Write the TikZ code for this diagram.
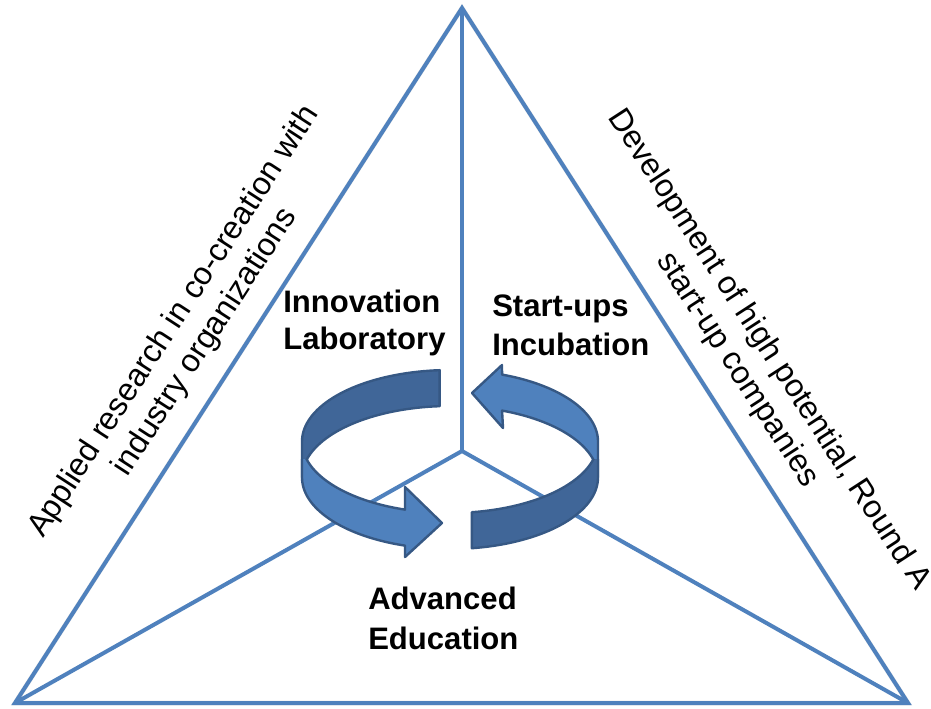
\documentclass[tikz,border=0pt]{standalone}
\usepackage{fontspec}
\setmainfont{Liberation Sans}
\definecolor{sideblue}{RGB}{79,129,189}
\definecolor{ribbonlight}{RGB}{79,129,189}
\definecolor{ribbondark}{RGB}{64,102,152}
\definecolor{ribbonline}{RGB}{54,88,132}

\begin{document}
\begin{tikzpicture}[x=0.75pt, y=-0.75pt,
	side/.style = {draw=sideblue, line width=3pt, line join=miter},
	sideshadow/.style = {draw=black!10, line width=3.5pt, xshift=2pt, yshift=-2pt},
	ribbon/.style = {draw=ribbonline, line width=1.8pt, line join=round},
	stagelabel/.style = {font=\bfseries\fontsize{23.3}{#1}\selectfont, align=left,
	inner sep=0pt, anchor=north west},
	sidetext/.style = {font=\fontsize{24}{28}\selectfont, align=center, inner sep=0pt}]

	\useasboundingbox (0,0) rectangle (931,708);

	\coordinate (apex) at (462,8);
	\coordinate (lcorner) at (15,703);
	\coordinate (rcorner) at (908,703);
	\coordinate (hub) at (462,451);

	% Triangle
	\draw[sideshadow] (apex) -- (rcorner) -- (lcorner) -- cycle;
	\draw[side] (apex) -- (rcorner) -- (lcorner) -- cycle;
	\draw[side] (hub) -- (apex);
	\draw[side] (hub) -- (lcorner);
	\draw[side] (hub) -- (rcorner);

	% Left ribbon, back then front with head
	\filldraw[ribbon, fill=ribbondark]
		plot[domain=94:180, samples=40] ({450+148*cos(\x)}, {441.5-71.5*sin(\x)})
		-- plot[domain=180:94, samples=40] ({450+148*cos(\x)}, {477.5-71.5*sin(\x)}) -- cycle;
	\begin{scope}
		\clip (0,459.5) rectangle (931,708);
		\filldraw[ribbon, fill=ribbonlight]
			plot[domain=180:252.3, samples=40] ({450+148*cos(\x)}, {441.5-71.5*sin(\x)})
			-- (405,487) -- (442,523) -- (405,557)
			-- plot[domain=252.3:180, samples=40] ({450+148*cos(\x)}, {477.5-71.5*sin(\x)}) -- cycle;
	\end{scope}

	% Right ribbon, back with head then front
	\filldraw[ribbon, fill=ribbonlight]
		plot[domain=0:69.4, samples=40] ({450+148*cos(\x)}, {441.5-71.5*sin(\x)})
		-- (502,365) -- (472,393) -- (503,428)
		-- plot[domain=69.4:0, samples=40] ({450+148*cos(\x)}, {477.5-71.5*sin(\x)}) -- cycle;
	\begin{scope}
		\clip (0,459.5) rectangle (931,708);
		\filldraw[ribbon, fill=ribbondark]
			plot[domain=278.5:360, samples=40] ({450+148*cos(\x)}, {441.5-71.5*sin(\x)})
			-- plot[domain=360:278.5, samples=40] ({450+148*cos(\x)}, {477.5-71.5*sin(\x)}) -- cycle;
	\end{scope}

	% Stages
	\node (innolab) [stagelabel=27.5] at (283,290) {Innovation\\Laboratory};
	\node (incubation) [stagelabel=29] at (492,295) {Start-ups\\Incubation};
	\node (education) [stagelabel=30] at (368,587) {Advanced\\Education};

	% Descriptions
	\node (research) [sidetext, rotate=57] at (190,332)
		{Applied research in co-creation with\\industry organizations};
	\node (development) [sidetext, rotate=-57] at (753,360)
		{Development of high potential, Round A\\start-up companies};
\end{tikzpicture}
\end{document}
